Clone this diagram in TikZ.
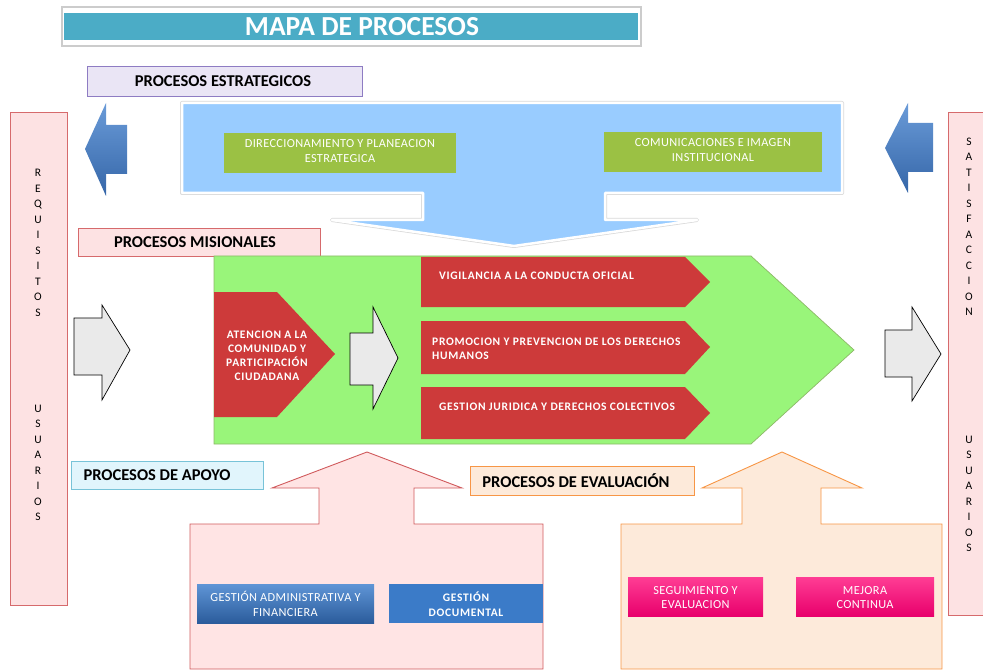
\documentclass[tikz,border=0pt]{standalone}
\usepackage{fontspec}
\setmainfont{Carlito}
\newfontfamily\widefont[LetterSpace=3]{Carlito}
\newfontfamily\wideb[LetterSpace=6]{Carlito}
\definecolor{titlebar}{HTML}{4BACC6}
\definecolor{lavfill}{HTML}{EAE5F5}
\definecolor{lavline}{HTML}{8E7CC3}
\definecolor{callblue}{HTML}{99CCFF}
\definecolor{olive}{HTML}{9BC144}
\definecolor{pinkfill}{HTML}{FDE2E3}
\definecolor{pinkline}{HTML}{D66A6C}
\definecolor{limefill}{HTML}{99F57A}
\definecolor{limeline}{HTML}{8DB868}
\definecolor{redbox}{HTML}{CD3A3A}
\definecolor{grayarrow}{HTML}{EAEAEA}
\definecolor{cyanfill}{HTML}{E1F5FC}
\definecolor{cyanline}{HTML}{78C3D8}
\definecolor{orfill}{HTML}{FDEADA}
\definecolor{orline}{HTML}{F79646}
\definecolor{supfill}{HTML}{FFE4E4}
\definecolor{supline}{HTML}{D05A5C}
\definecolor{blueA}{HTML}{5F95D6}
\definecolor{blueB}{HTML}{2B5C9C}
\definecolor{docblue}{HTML}{3B7BC8}
\definecolor{magA}{HTML}{FF3D94}
\definecolor{magB}{HTML}{E8006C}
\definecolor{arrA}{HTML}{6A9BD8}
\definecolor{arrB}{HTML}{3566A8}
\begin{document}
\begin{tikzpicture}[x=1pt, y=1pt]
\tikzstyle{every node}+=[inner sep=0pt]
\tikzstyle{lbl}=[font=\fontsize{16.5}{18}\selectfont\bfseries]
\tikzstyle{vtext}=[font=\fontsize{11.5}{15.5}\selectfont, align=center]
\tikzstyle{wtext}=[font=\widefont\fontsize{12.3}{15}\selectfont, text=white, align=center]
\tikzstyle{btext}=[font=\wideb\bfseries\fontsize{11.5}{14}\selectfont, text=white]
\tikzstyle{graystep}=[fill=grayarrow, draw=black, line width=0.7pt, line join=miter]
\tikzstyle{procbox}=[fill=olive, minimum height=40pt]
\tikzstyle{button}=[minimum height=39pt]
\useasboundingbox (0,0) rectangle (983,-671);
% title
\draw [black!20, fill=white, line width=1.5pt] (62,-7) rectangle (641,-46);
\fill [titlebar] (64,-13) rectangle (638,-40);
\draw (362,-27) node (title) {\fontsize{27.5}{30}\selectfont\bfseries\color{white}MAPA DE PROCESOS};
% labels
\draw [lavline, fill=lavfill, line width=0.8pt] (87,-66) rectangle (362,-96);
\draw (223,-81) node [lbl] (estr) {PROCESOS ESTRATEGICOS};
\draw [pinkline, fill=pinkfill, line width=0.8pt] (78,-228) rectangle (320,-256);
\draw (195,-242) node [lbl] (misi) {PROCESOS MISIONALES};
\draw [cyanline, fill=cyanfill, line width=1pt] (71,-461) rectangle (263,-489);
\draw (157,-475) node [lbl] (apoyo) {PROCESOS DE APOYO};
\draw [orline, fill=orfill, line width=0.8pt] (470,-466) rectangle (694,-495);
\draw (576,-481) node [lbl] (evalu) {PROCESOS DE EVALUACIÓN};
% side boxes
\draw [pinkline, fill=pinkfill, line width=1pt] (10,-113) rectangle (67,-605);
\draw (38,-243) node [vtext] (requi) {R\\E\\Q\\U\\I\\S\\I\\T\\O\\S};
\draw (38,-463) node [vtext] (usu1) {U\\S\\U\\A\\R\\I\\O\\S};
\draw [pinkline, fill=pinkfill, line width=1pt] (948,-113) rectangle (1000,-615);
\draw (969,-227) node [vtext] (satis) {S\\A\\T\\I\\S\\F\\A\\C\\C\\I\\O\\N};
\draw (969,-494) node [vtext] (usu2) {U\\S\\U\\A\\R\\I\\O\\S};
% blue arrows
\shade [top color=arrA, bottom color=arrB] (85,-149) -- (106,-103) -- (106,-125) -- (127,-125) -- (127,-174) -- (106,-174) -- (106,-196) -- cycle;
\shade [top color=arrA, bottom color=arrB] (885,-148) -- (908,-103) -- (908,-123) -- (933,-123) -- (933,-172) -- (908,-172) -- (908,-193) -- cycle;
% strategic callout
\draw [black!15, line width=4pt, line join=round] (182,-103) -- (842,-103) -- (842,-193) -- (605,-193) -- (605,-220) -- (697,-220) -- (514,-246) -- (332,-220) -- (423,-220) -- (423,-193) -- (182,-193) -- cycle;
\draw [white, fill=callblue, line width=2.5pt, line join=round] (182,-103) -- (842,-103) -- (842,-193) -- (605,-193) -- (605,-220) -- (697,-220) -- (514,-246) -- (332,-220) -- (423,-220) -- (423,-193) -- (182,-193) -- cycle;
\node [procbox, minimum width=232pt] (dirbox) at (340,-153) {};
\node [wtext] (dir) at (340,-151) {DIRECCIONAMIENTO Y PLANEACION\\ESTRATEGICA};
\node [procbox, minimum width=218pt] (combox) at (713,-152) {};
\node [wtext] (com) at (713,-150) {COMUNICACIONES E IMAGEN\\INSTITUCIONAL};
% missional
\draw [limeline, fill=limefill, line width=0.7pt] (214,-256) -- (751,-256) -- (854,-350) -- (751,-444) -- (214,-444) -- cycle;
\fill [redbox] (214,-292) -- (277,-292) -- (335,-354) -- (277,-417) -- (214,-417) -- cycle;
\draw (267,-356) node [btext, align=center] (aten) {ATENCION A LA\\COMUNIDAD Y\\PARTICIPACIÓN\\CIUDADANA};
\fill [redbox] (421,-257) -- (685,-257) -- (710,-282) -- (685,-307) -- (421,-307) -- cycle;
\draw (439,-276) node [btext, anchor=west] (vigi) {VIGILANCIA A LA CONDUCTA OFICIAL};
\fill [redbox] (421,-321) -- (685,-321) -- (710,-347) -- (685,-374) -- (421,-374) -- cycle;
\draw (432,-349) node [btext, anchor=west, align=left] (promo) {PROMOCION Y PREVENCION DE LOS DERECHOS\\HUMANOS};
\fill [redbox] (421,-387) -- (685,-387) -- (710,-413) -- (685,-439) -- (421,-439) -- cycle;
\draw (439,-407) node [btext, anchor=west] (juri) {GESTION JURIDICA Y DERECHOS COLECTIVOS};
% gray arrows
\draw [graystep] (74,-318) -- (102,-318) -- (102,-305) -- (130,-350) -- (102,-400) -- (102,-375) -- (74,-375) -- cycle;
\draw [graystep] (350,-333) -- (373,-333) -- (373,-307) -- (398,-358) -- (373,-409) -- (373,-385) -- (350,-385) -- cycle;
\draw [graystep] (885,-330) -- (912,-330) -- (912,-307) -- (941,-354) -- (912,-401) -- (912,-377) -- (885,-377) -- cycle;
% support
\draw [supline, fill=supfill, line width=0.9pt] (190,-524) -- (319,-524) -- (319,-488) -- (272,-488) -- (367,-452) -- (462,-488) -- (414,-488) -- (414,-524) -- (543,-524) -- (543,-669) -- (190,-669) -- cycle;
\shade [top color=blueA, bottom color=blueB] (197,-584) rectangle (374,-623);
\node [button, minimum width=177pt] (admbox) at (285.5,-603.5) {};
\node [wtext] (adm) at (285.5,-604) {GESTIÓN ADMINISTRATIVA Y\\FINANCIERA};
\node [button, fill=docblue, minimum width=154pt] (docbox) at (466,-603.5) {};
\node [btext, align=center, font=\wideb\bfseries\fontsize{11.5}{15}\selectfont] (docu) at (466,-604) {GESTIÓN\\DOCUMENTAL};
% evaluation
\draw [orline, fill=orfill, line width=0.9pt] (621,-524) -- (742,-524) -- (742,-488) -- (702,-488) -- (782,-452) -- (862,-488) -- (821,-488) -- (821,-524) -- (942,-524) -- (942,-669) -- (621,-669) -- cycle;
\shade [top color=magA, bottom color=magB] (628,-577) rectangle (763,-616);
\node [button, minimum width=135pt] (segbox) at (695.5,-596.5) {};
\node [wtext, font=\widefont\fontsize{12.3}{14}\selectfont] (segu) at (695.5,-598) {SEGUIMIENTO Y\\EVALUACION};
\shade [top color=magA, bottom color=magB] (796,-577) rectangle (934,-616);
\node [button, minimum width=138pt] (mejbox) at (865,-596.5) {};
\node [wtext, font=\widefont\fontsize{12.3}{14}\selectfont] (mejo) at (865,-598) {MEJORA\\CONTINUA};
\end{tikzpicture}
\end{document}
